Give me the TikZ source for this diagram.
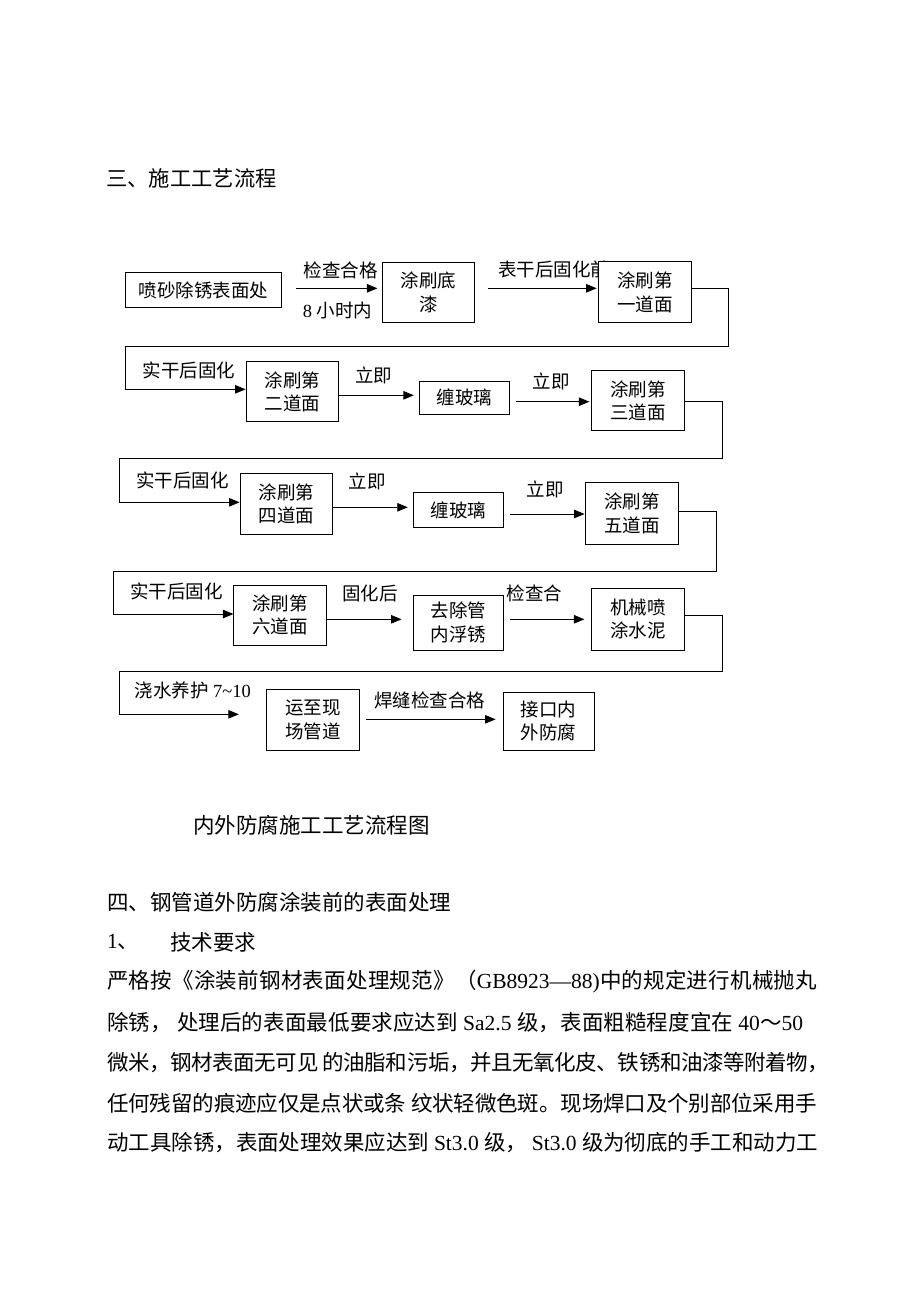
\documentclass[tikz,border=0pt]{standalone}
\usepackage{fontspec}
\setmainfont{Liberation Serif}
\newfontfamily\cjk{Noto Sans CJK SC}
\newfontfamily\latinfont{Liberation Serif}
\usetikzlibrary{arrows.meta}
% automatic font switching between Latin and CJK
\chardef\cjkcls=10
\newcount\mycnt
\def\setcjkrange#1#2{\mycnt=#1 \loop\XeTeXcharclass\mycnt=\cjkcls\advance\mycnt by 1 \ifnum\mycnt<#2 \repeat}
\setcjkrange{"3000}{"3040}
\setcjkrange{"4E00}{"A000}
\setcjkrange{"FF00}{"FFF0}
\XeTeXcharclass`\(=0 \XeTeXcharclass`\)=0 \XeTeXcharclass"2014=0
\def\jglue{}
\XeTeXinterchartoks 0 \cjkcls = {\cjk\jglue}
\XeTeXinterchartoks 4095 \cjkcls = {\cjk}
\XeTeXinterchartoks \cjkcls 0 = {\jglue\latinfont}
\XeTeXinterchartoks 4095 0 = {\latinfont}
\XeTeXinterchartoks \cjkcls \cjkcls = {\jglue}
\XeTeXinterchartokenstate=1
\tikzset{
  box/.style={draw, line width=0.9pt, fill=white, inner sep=0pt, align=center,
    font=\fontsize{18.5}{23.5}\selectfont},
  lbl/.style={inner sep=0pt, font=\fontsize{18.5}{22}\selectfont},
  body/.style={inner sep=0pt, anchor=west, font=\fontsize{21.5}{26}\selectfont},
  arr/.style={line width=0.9pt, -{Triangle[length=10.5pt,width=8.5pt]}},
  conn/.style={line width=0.9pt},
}
\newcommand\jline[2]{{\def\jglue{\hskip 0pt plus 1pt minus 1pt}\makebox[#1][s]{#2}}}
\begin{document}
\begin{tikzpicture}[x=1pt,y=-1pt]
\fill[white] (0,0) rectangle (920,1302);
\useasboundingbox (0,0) rectangle (920,1302);

% title
\node[body] (title) at (106,178.3) {\fontsize{21.3}{26}\selectfont 三、施工工艺流程};

% labels drawn before boxes (one is partly hidden)
\node[lbl] (l1) at (340.8,270) {检查合格};
\node[lbl] (l2) at (337.5,310) {8 小时内};
\node[lbl,anchor=west] (l3) at (498,269.3) {表干后固化前};
\node[lbl] (l4) at (188.8,370) {实干后固化};
\node[lbl] (l5) at (373.5,375) {立即};
\node[lbl] (l6) at (551,381.7) {立即};
\node[lbl] (l7) at (182.6,480) {实干后固化};
\node[lbl] (l8) at (367.3,481.7) {立即};
\node[lbl] (l9) at (545,489.3) {立即};
\node[lbl] (l10) at (176.5,591.7) {实干后固化};
\node[lbl] (l11) at (370,593.3) {固化后};
\node[lbl] (l12) at (534.5,593.3) {检查合};
\node[lbl,anchor=west] (l13) at (134.7,690.7) {浇水养护 7\textasciitilde10};
\node[lbl] (l14) at (429.6,700) {焊缝检查合格};

% boxes
\node[box,minimum width=156.3pt,minimum height=35pt] (b1) at (203.5,290.2) {喷砂除锈表面处};
\node[box,minimum width=92.3pt,minimum height=60.7pt] (b2) at (428.5,292.3) {涂刷底\\漆};
\node[box,minimum width=93.5pt,minimum height=61pt] (b3) at (644.8,292.2) {涂刷第\\一道面};
\node[box,minimum width=92.8pt,minimum height=60pt] (b4) at (292.4,391.7) {涂刷第\\二道面};
\node[box,minimum width=89.8pt,minimum height=32.3pt] (b5) at (464.5,397.9) {缠玻璃};
\node[box,minimum width=93.5pt,minimum height=60pt] (b6) at (637.8,400.7) {涂刷第\\三道面};
\node[box,minimum width=92.7pt,minimum height=60.7pt] (b7) at (286.4,503.7) {涂刷第\\四道面};
\node[box,minimum width=89.8pt,minimum height=34.6pt] (b8) at (458.4,510) {缠玻璃};
\node[box,minimum width=93.8pt,minimum height=61.3pt] (b9) at (631.9,513.4) {涂刷第\\五道面};
\node[box,minimum width=92.6pt,minimum height=60pt] (b10) at (280.2,615) {涂刷第\\六道面};
\node[box,minimum width=89.8pt,minimum height=55pt] (b11) at (458.4,622.5) {去除管\\内浮锈};
\node[box,minimum width=92.7pt,minimum height=62pt] (b12) at (638.2,619) {机械喷\\涂水泥};
\node[box,minimum width=93pt,minimum height=60.7pt] (b13) at (313,719.7) {运至现\\场管道};
\node[box,minimum width=91pt,minimum height=58pt] (b14) at (548.5,721) {接口内\\外防腐};

% arrows within rows
\path ([xshift=13.4pt,yshift=1.9pt]b1.east) coordinate (a1s);
\draw[arr] (a1s) -- ([xshift=-4.5pt]a1s -| b2.west);
\path ([xshift=13pt,yshift=4pt]b2.east) coordinate (a2s);
\draw[arr] (a2s) -- ([xshift=-1pt]a2s -| b3.west);
\path ([yshift=-3.6pt]b4.east) coordinate (a3s);
\draw[arr] (a3s) -- ([xshift=-5.3pt]a3s -| b5.west);
\path ([xshift=6pt,yshift=-3.8pt]b5.east) coordinate (a4s);
\draw[arr] (a4s) -- ([xshift=-1.2pt]a4s -| b6.west);
\path ([yshift=-3.6pt]b7.east) coordinate (a5s);
\draw[arr] (a5s) -- ([xshift=-5.3pt]a5s -| b8.west);
\path ([xshift=6pt,yshift=-4pt]b8.east) coordinate (a6s);
\draw[arr] (a6s) -- (a6s -| b9.west);
\path ([yshift=-4.3pt]b10.east) coordinate (a7s);
\draw[arr] (a7s) -- ([xshift=-11.5pt]a7s -| b11.west);
\path ([xshift=6pt,yshift=3.2pt]b11.east) coordinate (a8s);
\draw[arr] (a8s) -- ([xshift=-7pt]a8s -| b12.west);
\path ([xshift=6.5pt,yshift=0.4pt]b13.east) coordinate (a9s);
\draw[arr] (a9s) -- ([xshift=-7pt]a9s -| b14.west);

% connectors between rows
\coordinate (c1a) at (728.6,346);
\coordinate (c1b) at (125.3,346);
\draw[arr] ([yshift=3.9pt]b3.east) -| (c1a) -- (c1b) |- ([yshift=2.4pt]b4.west);
\coordinate (c2a) at (722.4,458);
\coordinate (c2b) at (119.2,458);
\draw[arr] ([yshift=-1pt]b6.east) -| (c2a) -- (c2b) |- ([yshift=1.4pt]b7.west);
\coordinate (c3a) at (716.3,571.7);
\coordinate (c3b) at (113.5,571.7);
\draw[arr] ([yshift=1.7pt]b9.east) -| (c3a) -- (c3b) |- ([yshift=1pt]b10.west);
\coordinate (c4a) at (722.8,671.7);
\coordinate (c4b) at (119.4,671.7);
\coordinate (c4e) at (238.8,714.3);
\draw[arr] ([yshift=4pt]b12.east) -| (c4a) -- (c4b) |- (c4e);

% caption
\node[body] (cap) at (193,825) {内外防腐施工工艺流程图};

% section text
\node[body] (s4) at (107,902) {四、钢管道外防腐涂装前的表面处理};
\node[body] (s41) at (107,942) {1、};
\node[body] (s41t) at (170,942) {技术要求};
\node[body] (p1) at (107,982) {\jline{710pt}{严格按《涂装前钢材表面处理规范》（GB8923—88)中的规定进行机械抛丸}};
\node[body] (p2) at (107,1022.5) {\jline{696pt}{除锈， 处理后的表面最低要求应达到 Sa2.5 级，表面粗糙程度宜在 40～50}};
\node[body] (p3) at (107,1063) {\jline{722pt}{微米，钢材表面无可见 的油脂和污垢，并且无氧化皮、铁锈和油漆等附着物，}};
\node[body] (p4) at (107,1103) {\jline{710pt}{任何残留的痕迹应仅是点状或条 纹状轻微色斑。现场焊口及个别部位采用手}};
\node[body] (p5) at (107,1143) {\jline{711pt}{动工具除锈，表面处理效果应达到 St3.0 级， St3.0 级为彻底的手工和动力工}};
\end{tikzpicture}
\end{document}
